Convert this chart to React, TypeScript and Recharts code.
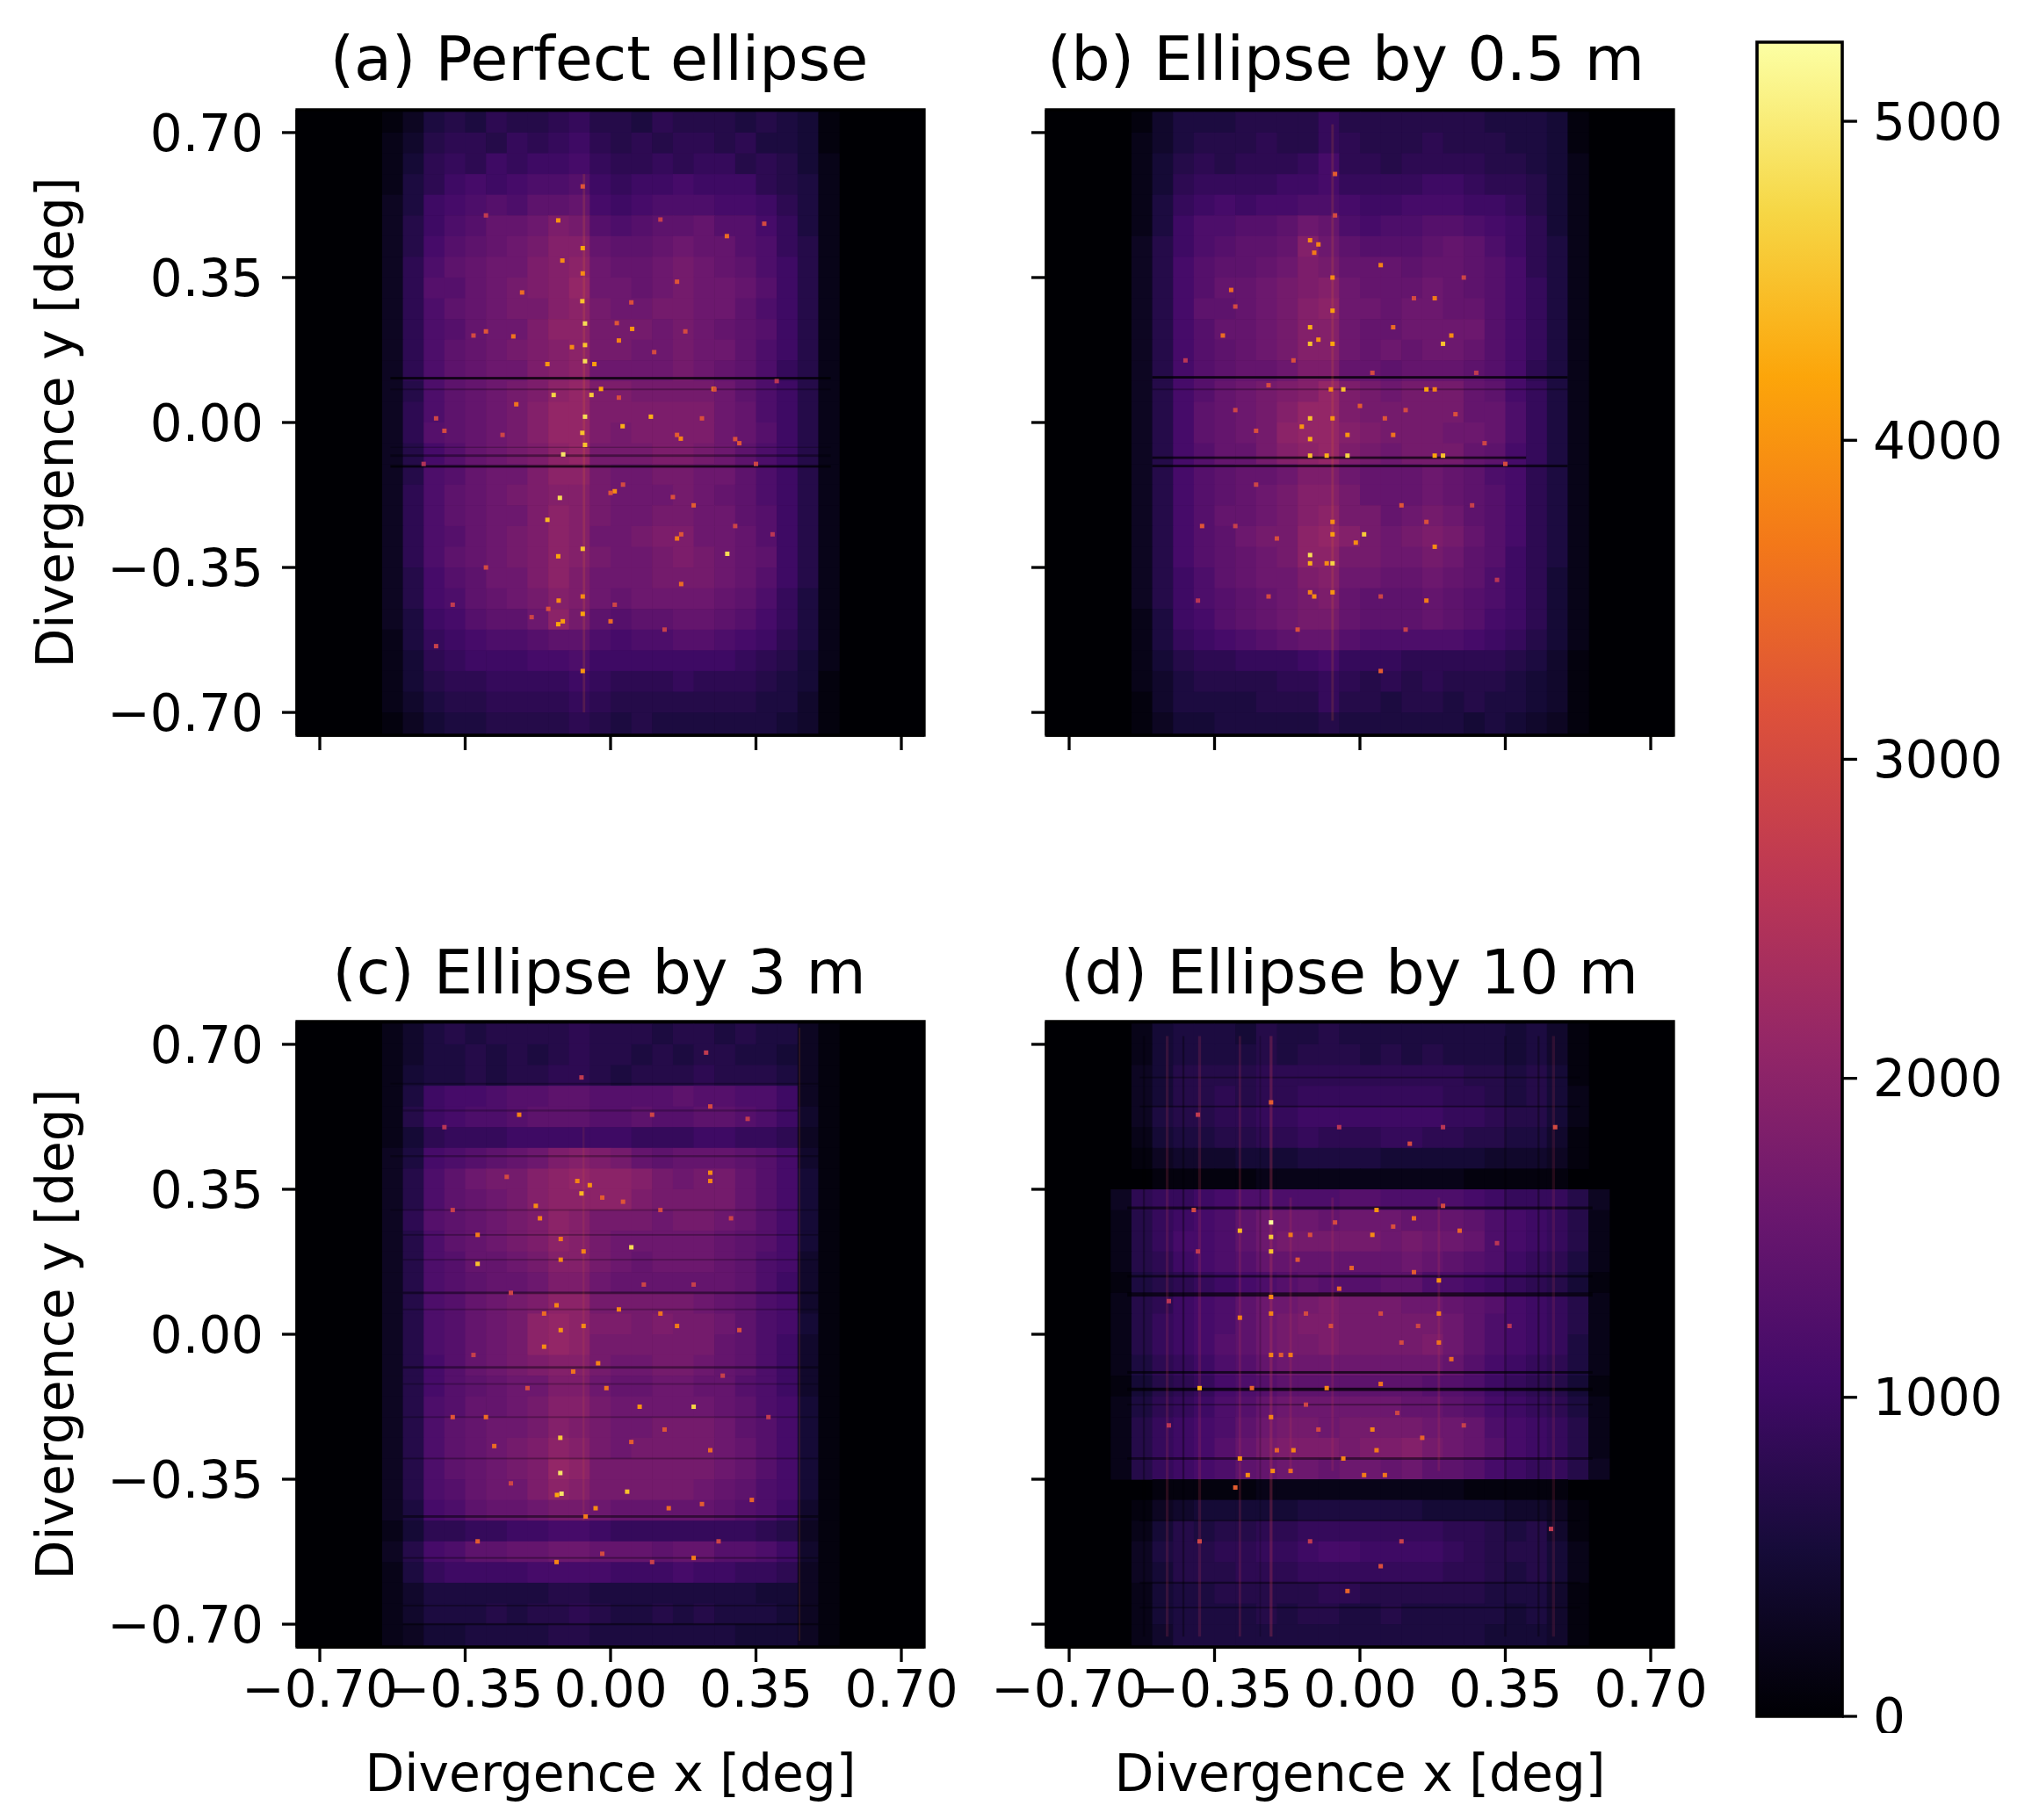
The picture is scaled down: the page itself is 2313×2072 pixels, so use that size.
import React from "react";
import { ScatterChart, Scatter, XAxis, YAxis, ReferenceArea, BarChart, Bar } from "recharts";

const FONT = "DejaVu Sans";
const TICKS = [-0.7, -0.35, 0, 0.35, 0.7];
const CBAR_TICKS = [0, 1000, 2000, 3000, 4000, 5000];
const VMAX = 5248;
const COUNT_UNIT = 100;
const LIMIT = 0.755;

const INFERNO = ["#000004", "#160b39", "#420a68", "#6a176e", "#932667", "#bc3754", "#dd513a", "#f37819", "#fca50a", "#f6d746", "#fcffa4"];

const X_BINS = [-0.575, -0.525, -0.475, -0.425, -0.375, -0.325, -0.275, -0.225, -0.175, -0.125, -0.075, -0.025, 0.025, 0.075, 0.125, 0.175, 0.225, 0.275, 0.325, 0.375, 0.425, 0.475, 0.525, 0.575];
const Y_BINS = [0.725, 0.675, 0.625, 0.575, 0.525, 0.475, 0.425, 0.375, 0.325, 0.275, 0.225, 0.175, 0.125, 0.075, 0.025, -0.025, -0.075, -0.125, -0.175, -0.225, -0.275, -0.325, -0.375, -0.425, -0.475, -0.525, -0.575, -0.625, -0.675, -0.725];

const gridA = [
[0,1,3,6,7,6,8,7,7,8,9,7,7,6,8,7,7,7,6,7,6,5,1,0],
[0,2,4,7,8,8,7,9,8,9,10,8,7,8,7,8,8,7,8,6,6,5,1,0],
[0,2,5,8,9,8,10,9,10,10,11,9,8,8,9,8,9,9,7,8,7,5,2,0],
[0,2,6,8,10,11,10,11,12,12,13,10,9,10,10,11,10,10,10,8,7,6,2,0],
[0,3,6,10,11,12,13,12,14,14,15,11,10,11,12,12,12,11,11,10,8,6,2,0],
[0,3,7,10,12,13,15,15,16,18,17,13,12,13,14,14,15,13,13,11,9,6,2,0],
[0,3,7,11,13,14,15,16,17,19,19,15,14,14,15,16,15,15,13,12,9,7,2,0],
[0,3,8,12,14,15,16,16,18,19,20,16,15,15,16,17,16,15,14,12,10,7,2,0],
[0,3,8,13,13,15,16,17,18,19,21,16,16,15,16,17,16,16,15,13,10,7,2,0],
[0,3,8,12,14,15,16,17,17,19,20,17,16,16,17,17,16,16,14,12,10,7,2,0],
[0,3,8,12,13,15,16,16,18,20,20,17,17,17,16,17,16,15,14,13,10,7,2,0],
[0,3,8,12,14,15,16,17,18,19,20,17,17,16,16,17,16,16,14,12,10,7,2,0],
[0,3,8,12,14,15,16,16,18,19,20,16,16,16,16,17,16,15,14,12,9,7,2,0],
[0,3,7,12,14,15,16,17,18,20,21,18,18,17,17,17,17,16,14,12,10,7,2,0],
[0,3,8,12,14,15,16,17,19,21,21,18,18,18,18,18,18,16,15,12,10,7,2,0],
[0,3,8,13,14,15,16,17,19,21,21,18,17,18,18,18,18,16,15,13,10,7,2,0],
[0,3,7,11,13,15,16,17,18,20,21,17,17,17,18,18,17,16,14,12,10,7,2,0],
[0,3,7,12,13,15,16,16,18,20,20,17,16,16,17,17,16,16,14,12,10,7,2,0],
[0,3,8,12,14,15,16,17,18,19,19,17,16,16,16,17,16,15,14,12,10,7,2,0],
[0,3,8,12,14,15,16,16,18,20,19,17,16,16,17,17,16,16,14,13,10,7,2,0],
[0,3,8,12,13,15,16,17,18,20,19,16,16,17,18,18,16,16,15,13,10,7,2,0],
[0,3,8,12,14,15,16,17,18,20,19,17,16,16,17,18,17,16,15,14,10,7,2,0],
[0,3,7,11,13,14,16,16,18,20,18,16,16,16,17,17,17,16,15,13,10,7,2,0],
[0,3,7,11,12,14,15,16,17,19,18,16,15,16,16,16,16,15,14,12,9,6,2,0],
[0,3,6,10,11,13,14,14,16,20,17,14,13,14,14,15,15,14,13,11,9,6,2,0],
[0,2,6,9,10,11,12,12,13,14,14,12,11,12,12,13,13,12,11,10,8,6,2,0],
[0,2,5,8,9,10,10,10,11,11,12,10,10,10,10,10,10,10,9,8,7,5,2,0],
[0,2,5,7,8,8,9,9,9,9,10,9,8,8,8,9,8,8,8,7,6,5,1,0],
[0,2,4,6,7,7,8,8,8,8,9,8,7,7,7,7,7,7,7,6,6,4,1,0],
[0,1,3,5,6,6,7,7,7,7,8,7,6,7,6,6,6,6,6,6,5,4,1,0],
];

const gridB = [
[0,1,4,6,6,6,7,7,7,7,9,7,7,7,7,7,7,7,6,6,6,5,1,0],
[0,2,4,6,7,7,7,8,7,7,9,8,7,7,7,8,7,7,7,6,6,5,1,0],
[0,2,5,7,8,7,8,8,8,9,11,8,8,7,8,8,8,8,7,7,6,5,2,0],
[0,2,5,8,9,9,9,9,10,10,11,9,9,9,9,10,10,9,8,8,7,5,2,0],
[0,2,6,9,10,11,10,11,11,12,12,11,10,10,11,11,11,10,10,9,7,5,2,0],
[0,2,6,10,12,12,13,13,14,16,15,12,11,12,12,13,13,12,11,10,8,5,2,0],
[0,3,7,10,12,13,14,14,15,19,16,14,13,13,13,14,15,14,12,10,8,6,2,0],
[0,3,7,11,13,14,14,15,16,18,17,15,15,15,14,15,15,14,13,11,8,6,2,0],
[0,3,7,11,13,15,15,16,17,18,19,16,15,15,15,16,15,14,13,11,9,6,2,0],
[0,3,7,11,14,14,15,16,17,19,20,16,16,15,16,16,15,15,13,11,9,6,2,0],
[0,3,7,11,13,15,15,16,17,19,19,16,15,15,16,16,16,16,13,11,9,6,2,0],
[0,3,7,11,13,14,15,16,17,19,19,16,15,16,15,16,16,15,13,11,9,6,2,0],
[0,3,7,11,13,14,15,15,16,18,18,15,15,14,15,15,15,14,13,11,8,6,2,0],
[0,3,7,11,13,15,16,17,18,19,21,18,17,16,17,17,17,15,14,11,9,6,2,0],
[0,3,7,11,14,15,16,17,19,21,21,18,17,17,17,17,17,15,15,12,9,6,2,0],
[0,3,7,11,14,15,16,17,20,21,21,19,18,17,17,17,16,16,15,12,9,6,2,0],
[0,3,7,11,13,15,15,17,19,20,21,18,17,16,17,17,17,15,14,11,9,6,2,0],
[0,3,7,11,13,14,15,15,16,18,18,16,15,15,15,16,15,14,12,11,8,6,2,0],
[0,3,7,11,13,14,15,16,17,19,19,17,15,15,15,16,15,14,13,11,8,6,2,0],
[0,3,7,11,13,15,15,16,17,19,20,17,17,15,16,17,16,14,13,11,8,6,2,0],
[0,3,7,11,13,14,16,17,17,20,21,19,17,16,17,18,17,15,13,11,8,6,2,0],
[0,3,7,11,13,14,15,16,17,20,20,17,17,16,16,17,16,14,13,10,8,6,2,0],
[0,3,7,10,12,14,15,16,16,18,19,16,16,15,15,16,15,14,12,10,8,5,2,0],
[0,3,7,10,12,13,14,15,16,17,18,15,14,14,14,15,14,13,12,10,8,5,2,0],
[0,2,6,10,11,13,14,15,16,17,17,15,14,14,14,15,14,13,11,10,8,5,2,0],
[0,2,6,9,10,11,12,13,14,15,15,13,12,12,12,12,12,11,10,9,7,5,2,0],
[0,2,5,7,8,8,9,9,9,10,11,9,9,9,8,8,8,8,8,7,6,4,1,0],
[0,2,4,6,7,7,7,7,8,8,9,8,7,8,7,8,7,7,7,6,5,4,1,0],
[0,1,4,6,6,6,6,7,7,7,9,7,7,6,7,7,6,7,6,6,5,4,1,0],
[0,1,3,5,5,6,6,6,6,6,7,6,6,6,6,6,6,5,6,5,4,3,1,0],
];

const gridC = [
[0,2,4,6,7,6,7,7,7,7,8,7,7,7,6,7,7,6,7,6,6,3,1,0],
[0,2,4,6,6,7,6,7,6,7,8,7,7,6,7,6,7,7,6,6,5,3,1,0],
[0,2,5,6,6,7,6,7,7,8,8,7,6,7,7,7,8,7,7,7,6,3,1,0],
[0,2,6,10,11,11,12,13,13,14,14,13,13,13,13,14,13,13,12,12,10,3,1,0],
[0,2,7,10,11,12,12,13,14,14,14,13,13,14,13,13,14,14,13,12,10,4,1,0],
[0,2,5,8,9,9,9,10,10,10,10,10,10,9,9,9,10,10,9,9,8,3,1,0],
[0,3,6,11,12,13,14,15,16,18,19,18,17,15,14,15,15,15,14,13,11,4,1,0],
[0,3,7,12,14,16,17,17,19,20,21,20,20,19,17,16,17,17,15,13,11,5,1,0],
[0,3,7,12,14,15,16,17,19,20,20,20,20,18,17,17,17,17,15,13,11,5,1,0],
[0,3,8,13,14,15,16,17,18,20,19,17,17,17,16,17,17,16,15,13,11,5,1,0],
[0,3,7,12,14,15,16,17,18,20,19,17,16,16,16,16,16,15,14,13,11,5,1,0],
[0,3,7,12,13,15,15,16,17,19,19,17,16,15,16,16,16,15,14,12,11,4,1,0],
[0,3,7,12,13,14,15,15,16,18,18,16,15,15,15,15,15,15,14,12,10,4,1,0],
[0,3,7,12,13,15,16,17,18,20,20,17,17,17,17,17,16,15,14,12,11,4,1,0],
[0,3,7,12,13,15,16,17,20,21,20,18,18,17,18,17,17,16,14,12,11,5,1,0],
[0,3,7,12,13,15,16,17,20,21,20,17,17,17,17,17,17,15,14,12,10,4,1,0],
[0,3,7,11,13,15,16,17,18,19,19,17,16,16,17,17,16,15,14,12,10,4,1,0],
[0,3,7,11,13,14,15,16,16,18,18,16,15,15,16,16,15,15,13,12,10,4,1,0],
[0,3,7,12,13,15,15,16,17,19,19,17,16,16,16,16,16,15,14,12,11,5,1,0],
[0,3,7,12,14,15,16,16,17,19,18,17,16,16,17,17,17,16,14,13,11,5,1,0],
[0,3,7,12,14,15,16,17,18,20,19,17,16,17,17,17,17,16,15,13,11,5,1,0],
[0,3,7,12,14,15,16,17,18,21,20,17,17,17,17,17,17,16,15,13,11,5,1,0],
[0,3,7,12,13,15,16,16,18,20,19,17,17,17,17,17,16,15,14,12,11,5,1,0],
[0,3,6,11,12,14,15,15,16,17,17,16,15,15,15,15,15,14,13,12,10,4,1,0],
[0,2,5,8,8,9,9,10,10,11,11,10,9,9,9,9,9,9,9,8,7,3,1,0],
[0,3,7,11,12,14,14,15,15,16,16,15,15,15,14,15,15,13,13,12,10,4,1,0],
[0,2,6,9,10,10,10,10,11,11,11,11,10,10,10,11,10,10,9,9,8,3,1,0],
[0,2,4,6,6,6,6,6,6,7,7,6,6,6,6,6,6,6,6,5,5,3,1,0],
[0,2,4,6,6,6,7,6,7,7,8,7,6,6,7,6,7,6,6,6,5,3,1,0],
[0,2,3,5,5,6,6,6,6,7,7,6,6,6,6,6,6,6,5,5,5,3,1,0],
];

const gridD = [
[0,2,5,6,6,6,5,7,6,6,7,6,6,6,6,6,6,6,6,5,6,4,1,0],
[0,2,5,6,6,6,6,7,6,7,7,7,6,7,6,7,6,6,6,5,6,4,1,0],
[0,3,5,7,7,7,7,8,8,8,8,8,8,8,8,8,8,7,7,6,7,5,1,0],
[0,3,5,7,7,8,7,8,8,9,9,9,9,9,9,9,8,8,7,6,7,5,2,0],
[0,3,6,7,7,8,8,9,9,10,10,10,10,10,10,10,9,9,8,7,7,5,2,0],
[0,2,5,6,6,7,7,8,8,9,8,8,8,9,9,8,8,7,7,6,6,4,1,0],
[0,1,3,4,4,4,5,5,5,6,6,6,6,5,5,5,5,5,4,4,4,3,1,0],
[0,0,1,1,1,1,1,2,2,2,2,2,2,2,2,2,2,1,1,1,1,1,0,0],
[3,8,9,9,10,11,12,12,12,12,12,13,13,12,12,12,12,11,10,9,9,9,7,3],
[2,7,9,10,11,12,14,16,16,16,15,16,16,16,15,15,15,14,12,11,10,9,7,2],
[2,7,9,11,11,12,14,16,17,17,17,17,17,16,17,16,16,15,12,11,10,9,7,2],
[2,7,8,10,11,12,13,15,15,15,15,15,15,15,16,15,14,13,12,10,9,8,6,2],
[1,6,7,8,9,10,11,12,13,14,13,13,13,14,14,12,12,11,10,9,8,7,5,1],
[2,7,8,10,11,12,14,16,16,17,18,17,17,17,16,16,15,14,13,11,10,9,7,2],
[2,7,9,10,11,12,14,16,17,18,18,17,17,17,17,17,16,14,12,11,10,9,7,2],
[2,7,9,10,11,13,14,16,17,17,18,17,17,17,17,18,16,14,12,11,10,9,6,2],
[2,6,8,9,10,12,13,15,16,16,16,16,16,16,16,16,15,13,11,10,9,8,6,2],
[1,5,7,8,9,11,12,13,14,14,14,14,14,14,14,13,13,12,10,9,8,7,5,1],
[2,6,8,9,10,12,13,15,16,16,16,16,16,16,15,15,14,13,11,10,9,8,6,2],
[2,7,9,10,11,12,14,16,17,17,16,17,17,17,17,16,16,15,12,11,10,9,7,2],
[2,7,9,10,11,13,15,17,18,18,18,17,18,18,19,17,16,15,13,11,10,9,7,2],
[2,7,9,10,11,12,14,15,16,16,15,16,16,15,16,14,14,13,11,10,9,9,7,3],
[0,0,1,1,1,1,1,2,2,2,2,2,2,2,2,2,2,1,1,1,1,1,0,0],
[0,1,3,4,5,5,5,5,5,6,6,6,6,6,6,5,5,5,5,4,4,3,1,0],
[0,2,5,7,6,7,7,8,8,9,9,9,9,9,9,9,8,8,7,6,7,4,1,0],
[0,3,6,7,7,8,8,9,9,10,11,11,10,10,10,10,9,8,7,7,7,5,2,0],
[0,3,5,7,7,7,8,8,8,9,9,9,9,9,9,9,8,8,7,6,7,5,2,0],
[0,2,5,6,6,7,7,7,7,7,8,8,7,7,7,7,7,7,6,6,6,4,1,0],
[0,2,5,6,6,6,6,7,6,7,7,6,6,7,6,6,6,6,6,5,6,4,1,0],
[0,2,4,6,6,6,6,6,6,6,6,6,6,6,6,6,6,6,5,5,5,4,1,0],
];

// [x, y, counts] of the brightest single pixels that can be read in each panel
const hotA = [[-0.0615,0.239,4800],[-0.0615,0.148,4800],[-0.0615,0.014,4800],[-0.068,0.293,4500],[-0.137,0.0665,4700],[-0.046,0.0665,4600],[-0.114,-0.077,4900],[-0.122,-0.182,4800],[-0.152,-0.235,4400],[-0.0615,-0.054,4500],[-0.0615,0.187,4500],[-0.068,-0.025,4500],[0.097,0.014,4300],[0.029,-0.009,4300],[-0.023,0.081,4200],[0.248,0.081,4100],[-0.152,0.141,4000],[-0.039,0.141,4100],[-0.093,0.182,3900],[0.052,0.226,4000],[0.02,0.198,3800],[0.169,-0.039,3800],[0.01,-0.166,3900],[-0.227,0.044,3600],[-0.234,0.208,3600],[-0.213,0.314,3500],[-0.067,-0.305,4500],[-0.126,-0.323,4200],[-0.126,-0.487,4200],[-0.067,-0.462,4200],[0.281,-0.317,4800],[-0.126,0.488,4000],[-0.116,0.391,3900],[-0.067,0.421,4200],[-0.067,0.36,3900],[-0.067,-0.42,3900],[-0.125,-0.43,3900],[-0.115,-0.48,4100],[0.16,-0.28,3700],[0.17,-0.39,3500],[0,-0.48,3500],[-0.4,-0.02,3000],[0.31,-0.05,3200],[-0.067,-0.6,4000],[-0.067,0.57,3200],[-0.3,0.22,3200],[0.2,-0.2,3300],[-0.3,-0.35,3000],[0.015,0.24,3200],[0.05,0.29,3100],[0.16,0.34,3200],[0.18,0.22,3000],[0.105,0.17,3000],[0.28,0.45,3500],[0.37,0.48,3000],[-0.33,0.21,3000],[-0.42,0.01,2900],[0.16,-0.03,3300],[0.22,0.01,3100],[0.3,-0.04,3100],[0.02,0.06,3100],[0.25,0.08,3100],[0.03,-0.15,3000],[0,-0.17,3200],[0.15,-0.18,3100],[0.17,-0.27,3200],[0.3,-0.25,2900],[-0.42,-0.54,2800],[-0.26,-0.03,2900],[-0.38,-0.44,2700],[-0.19,-0.47,2900],[-0.15,-0.45,3100],[0.01,-0.44,2900],[0.13,-0.5,2800],[0.35,-0.1,2900],[0.4,0.1,2600],[-0.45,-0.1,2500],[0.39,-0.27,2600],[-0.3,0.5,2700],[0.12,0.49,2800]];
const hotB = [[-0.12,0.44,3900],[-0.1,0.43,3800],[-0.11,0.41,3700],[-0.066,0.35,3900],[-0.066,0.27,4100],[-0.12,0.23,4300],[-0.12,0.19,4500],[-0.1,0.2,4000],[0.2,0.19,4500],[0.22,0.21,3900],[-0.066,0.19,4200],[0.05,0.38,3800],[-0.07,0.08,3900],[-0.04,0.08,4500],[0.16,0.08,4200],[0.18,0.08,3800],[-0.12,0.01,4500],[-0.14,-0.01,4000],[-0.12,-0.04,4300],[-0.066,0.01,4000],[-0.03,-0.03,4000],[-0.12,-0.08,4500],[-0.03,-0.08,4700],[-0.08,-0.08,4300],[0.2,-0.08,4500],[0.18,-0.08,4200],[0.01,-0.27,4600],[-0.01,-0.29,3900],[-0.066,-0.27,4100],[-0.066,-0.24,3900],[-0.12,-0.32,4800],[-0.12,-0.34,4300],[-0.066,-0.34,4700],[-0.08,-0.34,3900],[0.18,-0.3,3900],[-0.11,-0.42,3900],[-0.12,-0.41,3800],[-0.066,-0.41,4000],[0.16,-0.43,3700],[-0.33,0.21,3500],[0.08,0.23,3500],[0.18,0.3,3700],[-0.38,-0.25,3200],[0.08,-0.03,3600],[-0.31,0.32,3500],[0.05,-0.6,3300],[0.35,-0.1,3000],[-0.06,0.6,3300],[-0.3,0.28,3000],[-0.16,0.15,3100],[0.03,0.12,3000],[0.13,0.3,3000],[0.25,0.35,2900],[0.28,0.12,2700],[-0.22,0.09,3000],[-0.3,0.03,2900],[-0.25,-0.02,3100],[0,0.04,3300],[0.06,0.01,3200],[0.11,0.03,3000],[0.23,0.02,3100],[0.3,-0.05,2900],[-0.25,-0.15,2900],[-0.3,-0.25,2800],[-0.2,-0.28,3100],[0.1,-0.2,3200],[0.16,-0.24,3100],[0.27,-0.2,2800],[-0.22,-0.42,3000],[-0.15,-0.5,3100],[0.05,-0.42,2900],[0.11,-0.5,2800],[0.33,-0.38,2600],[-0.39,-0.43,2600],[-0.42,0.15,2600],[-0.06,0.5,3000]];
const hotC = [[-0.121,-0.25,4600],[-0.121,-0.335,4900],[-0.118,-0.385,4900],[-0.129,-0.388,4200],[0.04,-0.38,4500],[-0.036,-0.42,3900],[0.2,-0.175,4700],[0.07,-0.175,4000],[-0.32,0.17,4500],[-0.32,0.24,3700],[0.05,0.21,4800],[-0.07,0.34,4400],[-0.08,0.37,3800],[-0.05,0.36,4000],[0.24,0.39,3900],[0.24,0.37,3800],[-0.22,0.53,3800],[-0.18,0.31,3900],[-0.17,0.28,3800],[-0.12,0.23,3700],[-0.12,0.18,3900],[-0.065,0.2,3800],[-0.13,0.07,3800],[-0.16,0.05,3500],[-0.12,0.01,4000],[-0.16,-0.03,3900],[-0.065,0.02,3900],[0.02,0.06,3800],[0.12,0.05,3600],[0.16,0.02,3700],[-0.03,-0.07,3800],[-0.01,-0.13,3600],[-0.3,-0.2,3500],[-0.28,-0.27,3500],[-0.38,-0.2,3200],[0.24,-0.28,3500],[-0.13,-0.55,3800],[0.2,-0.54,3700],[-0.32,-0.5,3300],[-0.06,-0.44,3700],[0.22,-0.41,3300],[0.34,-0.4,3400],[0.31,0.01,3100],[-0.09,-0.09,3600],[0.05,-0.26,3300],[0.14,-0.42,3500],[0.13,-0.23,3200],[0.24,0.55,3000],[-0.25,0.38,3000],[-0.02,0.33,3300],[0.03,0.32,3200],[0.12,0.3,3000],[0.29,0.28,2900],[-0.38,0.3,2800],[-0.24,0.1,2900],[0.08,0.12,2900],[0.2,0.12,2800],[-0.33,-0.05,2800],[-0.2,-0.13,3000],[0.27,-0.1,2800],[0.38,-0.2,2700],[-0.24,-0.36,2900],[0.26,-0.5,2900],[-0.02,-0.53,3000],[0.1,-0.55,2800],[-0.4,0.5,2600],[0.1,0.53,2900],[0.33,0.52,2700],[-0.07,0.62,2700],[0.23,0.68,2700]];
const hotD = [[-0.214,0.27,5200],[-0.214,0.235,4600],[-0.214,0.2,4500],[-0.289,0.25,4400],[-0.167,0.24,3700],[0.04,0.3,4000],[0.03,0.24,3900],[0.19,0.13,4000],[0.19,0.05,3700],[-0.214,0.09,3900],[-0.214,0.05,3800],[-0.289,0.04,3800],[-0.167,-0.05,3700],[0.19,-0.02,3600],[0.22,-0.06,3500],[-0.214,-0.05,3800],[-0.386,-0.13,4300],[-0.26,-0.13,3400],[-0.08,-0.13,3800],[0.05,-0.12,3600],[-0.214,-0.2,3800],[-0.16,-0.28,3800],[-0.2,-0.28,3400],[-0.289,-0.3,4000],[-0.04,-0.3,3800],[0.04,-0.28,3700],[0.03,-0.23,3800],[0.15,-0.25,3400],[-0.3,-0.37,3300],[-0.27,-0.34,3900],[-0.21,-0.33,3900],[-0.167,-0.33,3500],[0.01,-0.34,3700],[0.06,-0.34,3600],[-0.4,0.3,3000],[0.24,0.25,3400],[0.13,0.15,3300],[0.05,-0.56,3100],[-0.03,-0.62,3400],[0.2,0.31,3000],[-0.214,0.56,3300],[0.12,0.46,3000],[0.47,0.5,3000],[-0.19,-0.05,3300],[0.13,0.28,3500],[-0.02,0.16,3400],[-0.05,0.11,3500],[-0.15,0.18,3200],[-0.12,0.24,3100],[-0.06,0.27,3000],[0.08,0.26,3100],[-0.13,0.05,3000],[-0.07,0.02,3100],[0.05,0.05,3000],[0.1,-0.02,3000],[0.14,0.02,2900],[-0.13,-0.17,2900],[-0.1,-0.23,3000],[0.09,-0.19,2900],[0.25,-0.22,2800],[-0.46,0.08,2600],[-0.39,0.2,2700],[-0.46,-0.22,2600],[0.33,0.22,2600],[0.36,0.02,2600],[-0.386,-0.5,2900],[-0.39,0.53,2700],[0.46,-0.47,2700],[-0.12,-0.5,2700],[0.1,-0.5,2800],[-0.05,0.5,2600],[0.2,0.5,2600]];

// [y, x start, x end, thickness in degrees, opacity]: thin dark rows
const darkA = [[0.107,-0.53,0.53,0.006,0.8],[0.08,-0.53,0.53,0.004,0.3],[-0.08,-0.53,0.53,0.006,0.4],[-0.106,-0.53,0.53,0.006,0.75],[-0.06,-0.53,0.53,0.003,0.25]];
const darkB = [[0.109,-0.5,0.5,0.006,0.8],[0.08,-0.5,0.5,0.004,0.3],[-0.085,-0.5,0.4,0.006,0.7],[-0.105,-0.5,0.5,0.006,0.7]];
const darkC = [[0.605,-0.53,0.5,0.004,0.3],[0.54,-0.5,0.45,0.005,0.25],[0.43,-0.53,0.5,0.005,0.3],[0.3,-0.53,0.5,0.004,0.25],[0.24,-0.5,0.5,0.004,0.3],[0.18,-0.5,0.5,0.004,0.25],[0.1,-0.5,0.5,0.006,0.45],[0.06,-0.5,0.5,0.004,0.25],[-0.08,-0.5,0.5,0.006,0.4],[-0.12,-0.5,0.5,0.004,0.25],[-0.2,-0.5,0.5,0.004,0.25],[-0.3,-0.5,0.5,0.004,0.3],[-0.44,-0.5,0.5,0.006,0.5],[-0.54,-0.5,0.5,0.004,0.35],[-0.655,-0.5,0.5,0.004,0.35],[-0.7,-0.5,0.5,0.005,0.5]];
const darkD = [[0.305,-0.56,0.56,0.007,0.6],[0.14,-0.56,0.56,0.006,0.55],[0.096,-0.56,0.56,0.01,0.7],[-0.092,-0.56,0.56,0.006,0.7],[-0.133,-0.56,0.56,0.008,0.75],[-0.17,-0.56,0.56,0.004,0.35],[-0.3,-0.56,0.56,0.006,0.5],[0.62,-0.53,0.53,0.004,0.35],[0.55,-0.53,0.53,0.004,0.45],[-0.45,-0.53,0.53,0.004,0.35],[-0.6,-0.53,0.53,0.005,0.45],[-0.66,-0.53,0.53,0.004,0.4]];

// [x, y start, y end, width in degrees, opacity]: vertical stripes
const stripeA = [[-0.064,-0.7,0.6,0.006,0.16]];
const stripeB = [[-0.066,-0.72,0.72,0.006,0.16]];
const stripeC = [[-0.065,-0.45,0.5,0.005,0.1],[0.455,-0.74,0.74,0.003,0.18]];
const stripeD = [[-0.464,-0.73,0.72,0.007,0.2],[-0.386,-0.73,0.72,0.007,0.22],[-0.289,-0.73,0.72,0.006,0.22],[-0.214,-0.73,0.72,0.007,0.32],[-0.167,-0.33,0.33,0.006,0.22],[-0.066,-0.33,0.33,0.006,0.22],[0.19,-0.33,0.33,0.006,0.22],[0.466,-0.73,0.72,0.007,0.18]];
const stripeDarkD = [[-0.52,-0.73,0.72,0.005,0.3],[-0.425,-0.73,0.72,0.005,0.35],[-0.24,-0.73,0.72,0.004,0.2],[0.35,-0.73,0.72,0.006,0.25],[0.43,-0.73,0.72,0.005,0.35]];

const PANELS = [
  { key: "a", title: "(a) Perfect ellipse", grid: gridA, hot: hotA, dark: darkA, stripe: stripeA, stripeDark: [], left: 338, top: 125, titleX: 682, titleY: 91, showY: true, showX: false },
  { key: "b", title: "(b) Ellipse by 0.5 m", grid: gridB, hot: hotB, dark: darkB, stripe: stripeB, stripeDark: [], left: 1191, top: 125, titleX: 1532, titleY: 91, showY: false, showX: false },
  { key: "c", title: "(c) Ellipse by 3 m", grid: gridC, hot: hotC, dark: darkC, stripe: stripeC, stripeDark: [], left: 338, top: 1163, titleX: 682, titleY: 1131, showY: true, showX: true },
  { key: "d", title: "(d) Ellipse by 10 m", grid: gridD, hot: hotD, dark: darkD, stripe: stripeD, stripeDark: stripeDarkD, left: 1191, top: 1163, titleX: 1536, titleY: 1131, showY: false, showX: true },
];

const PANEL_W = 714;
const PANEL_H = 712;
const PAD_L = 330;
const PAD_T = 120;
const PX_PER_DEG = PANEL_W / (2 * LIMIT);
const PY_PER_DEG = PANEL_H / (2 * LIMIT);
const CELL = 0.05;

function hexToRgb(h: string) {
  return [parseInt(h.slice(1, 3), 16), parseInt(h.slice(3, 5), 16), parseInt(h.slice(5, 7), 16)];
}
function inferno(v: number) {
  const t = Math.max(0, Math.min(1, v / VMAX)) * (INFERNO.length - 1);
  const i = Math.min(INFERNO.length - 2, Math.floor(t));
  const f = t - i;
  const a = hexToRgb(INFERNO[i]);
  const b = hexToRgb(INFERNO[i + 1]);
  return `rgb(${a.map((c, k) => Math.round(c + (b[k] - c) * f)).join(",")})`;
}

function toCells(grid: number[][]) {
  const out: any[] = [];
  grid.forEach((row, r) => row.forEach((v, c) => {
    if (v > 0) out.push({ x: X_BINS[c], y: Y_BINS[r], v: v * COUNT_UNIT });
  }));
  return out;
}

const CellShape = (p: any) => (
  <rect x={p.cx - (CELL * PX_PER_DEG) / 2} y={p.cy - (CELL * PY_PER_DEG) / 2} width={CELL * PX_PER_DEG + 0.6} height={CELL * PY_PER_DEG + 0.6} fill={inferno(p.payload.v)} />
);
const HotShape = (p: any) => (
  <rect x={p.cx - 2.5} y={p.cy - 2.5} width={5} height={5} fill={inferno(p.payload.v)} />
);
const BandShape = (p: any) => (
  <rect x={p.cx - (p.payload.w * PX_PER_DEG) / 2} y={p.cy - (p.payload.h * PY_PER_DEG) / 2} width={p.payload.w * PX_PER_DEG} height={p.payload.h * PY_PER_DEG} fill={p.payload.c} fillOpacity={p.payload.o} />
);

const fmt = (v: number) => {
  const s = Math.abs(v).toFixed(2);
  return v < 0 ? `\u2212${s}` : s;
};

function Panel({ cfg }: { cfg: any }) {
  const cells = toCells(cfg.grid);
  const hot = cfg.hot.map((h: number[]) => ({ x: h[0], y: h[1], v: h[2] }));
  const rows = cfg.dark.map((d: number[]) => ({ x: (d[1] + d[2]) / 2, y: d[0], w: d[2] - d[1], h: d[3], o: d[4], c: "#000004" }));
  const bright = cfg.stripe.map((d: number[]) => ({ x: d[0], y: (d[1] + d[2]) / 2, w: d[3], h: d[2] - d[1], o: d[4], c: cfg.key === "d" ? "#bc3754" : "#f37819" }));
  const cold = cfg.stripeDark.map((d: number[]) => ({ x: d[0], y: (d[1] + d[2]) / 2, w: d[3], h: d[2] - d[1], o: d[4], c: "#000004" }));
  const ox = cfg.left - PAD_L;
  const oy = cfg.top - PAD_T;
  const tickStyle = { fontSize: 58, fill: "#000", fontFamily: FONT };
  const axisLine = { stroke: "#000", strokeWidth: 3.3 };
  const tickLine = { stroke: "#000", strokeWidth: 3.3 };
  return (
    <div style={{ position: "absolute", left: ox, top: oy }}>
      <ScatterChart width={PAD_L + PANEL_W + 60} height={PAD_T + PANEL_H + 250} margin={{ top: PAD_T, right: 60, left: 0, bottom: 0 }}>
        <XAxis type="number" dataKey="x" domain={[-LIMIT, LIMIT]} ticks={TICKS} interval={0} allowDataOverflow height={250} tickSize={17} tickMargin={10} tick={tickStyle} axisLine={axisLine} tickLine={tickLine} tickFormatter={cfg.showX ? fmt : () => ""} />
        <YAxis type="number" dataKey="y" domain={[-LIMIT, LIMIT]} ticks={TICKS} interval={0} allowDataOverflow width={PAD_L} tickSize={17} tickMargin={21} tick={tickStyle} axisLine={axisLine} tickLine={tickLine} tickFormatter={cfg.showY ? fmt : () => ""} />
        <ReferenceArea x1={-LIMIT} x2={LIMIT} y1={-LIMIT} y2={LIMIT} fill="#000004" fillOpacity={1} stroke="#000" strokeWidth={3.3} />
        <Scatter data={cells} shape={CellShape} isAnimationActive={false} />
        <Scatter data={rows} shape={BandShape} isAnimationActive={false} />
        <Scatter data={cold} shape={BandShape} isAnimationActive={false} />
        <Scatter data={bright} shape={BandShape} isAnimationActive={false} />
        <Scatter data={hot} shape={HotShape} isAnimationActive={false} />
        <text x={cfg.titleX - ox} y={cfg.titleY - oy} textAnchor="middle" fontSize={70} fontFamily={FONT} fill="#000">{cfg.title}</text>
        {cfg.showX && <text x={PAD_L + PANEL_W / 2} y={2039 - oy} textAnchor="middle" fontSize={58.3} fontFamily={FONT} fill="#000">Divergence x [deg]</text>}
        {cfg.showY && <text transform={`translate(${83 - ox},${cfg.top + PANEL_H / 2 - oy}) rotate(-90)`} textAnchor="middle" fontSize={58.3} fontFamily={FONT} fill="#000">Divergence y [deg]</text>}
      </ScatterChart>
    </div>
  );
}

const cbarData = [{ name: "scale", top: VMAX }];

function ColorBar() {
  return (
    <div style={{ position: "absolute", left: 1940, top: 28 }}>
      <BarChart width={373} height={1945} data={cbarData} margin={{ top: 20, right: 216, left: 60, bottom: 19 }} barCategoryGap={0}>
        <defs>
          <linearGradient id="infernoScale" x1="0" y1="1" x2="0" y2="0">
            {INFERNO.map((c, i) => <stop key={c} offset={i / (INFERNO.length - 1)} stopColor={c} />)}
          </linearGradient>
        </defs>
        <XAxis dataKey="name" hide />
        <YAxis orientation="right" type="number" domain={[0, VMAX]} ticks={CBAR_TICKS} interval={0} width={0.1} tickSize={17} tickMargin={18} axisLine={false} tick={{ fontSize: 58, fill: "#000", fontFamily: FONT, textAnchor: "start" }} tickLine={{ stroke: "#000", strokeWidth: 3.3 }} />
        <Bar dataKey="top" fill="url(#infernoScale)" stroke="#000" strokeWidth={3.6} isAnimationActive={false} />
      </BarChart>
    </div>
  );
}

export default function App() {
  return (
    <div style={{ position: "absolute", left: 0, top: 0, width: 2313, height: 2072, background: "#fff", overflow: "hidden", fontFamily: FONT }}>
      {PANELS.map((p) => <Panel key={p.key} cfg={p} />)}
      <ColorBar />
    </div>
  );
}
